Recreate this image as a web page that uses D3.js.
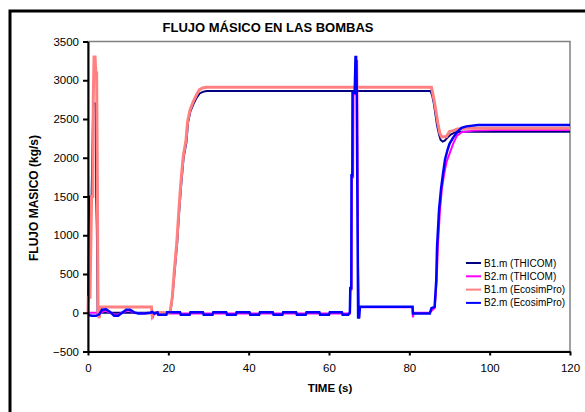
<!DOCTYPE html>
<html><head><meta charset="utf-8">
<script src="https://cdn.jsdelivr.net/npm/d3@7"></script>
<style>
body{margin:0;background:#fff;}
text{font-family:"Liberation Sans",Arial,sans-serif;}
</style></head>
<body>
<svg id="c" width="585" height="412"></svg>
<script>
// ---- data ----
const seriesNames = ["B1.m (THICOM)", "B2.m (THICOM)", "B1.m (EcosimPro)", "B2.m (EcosimPro)"];
const xTicks = [0, 20, 40, 60, 80, 100, 120];
const yTicks = [-500, 0, 500, 1000, 1500, 2000, 2500, 3000, 3500];

const b1ThicomT = [0, 0.3, 0.9, 1.3, 1.9, 2.05, 2.2, 2.4, 16, 20.5, 21.0, 21.6, 22.2, 22.7, 23.2, 23.8, 24.5, 24.9, 25.5, 26.3, 27.1, 27.8, 28.6, 29.5, 85.3, 85.7, 86.1, 86.5, 86.9, 87.4, 87.8, 88.3, 88.8, 89.5, 90.3, 91.5, 93, 120];
const b1ThicomV = [0, 1500, 1500, 2700, 2700, 1500, 1100, 0, 0, 0, 200, 550, 900, 1300, 1650, 2000, 2200, 2450, 2600, 2700, 2780, 2830, 2850, 2860, 2860, 2800, 2700, 2560, 2420, 2300, 2230, 2208, 2220, 2260, 2300, 2330, 2337, 2337];

const b2ThicomT = [0, 2, 3, 4.2, 5.5, 7, 8.5, 10, 11.5, 13, 16, 16.2, 16.5, 65.2, 65.3, 65.6, 65.7, 66.0, 66.1, 66.6, 66.7, 67.0, 67.25, 67.5, 67.6, 80.8, 80.9, 81.1, 85, 86.3, 86.8, 87.1, 87.6, 88.1, 88.7, 89.3, 90, 90.9, 91.8, 93, 96, 101, 120];
const b2ThicomV = [0, 0, -10, 30, 0, -30, 0, 30, 0, -5, -5, -50, -10, -10, 300, 300, 1750, 1750, 2820, 2820, 3250, 3250, 600, -50, 70, 70, -60, 0, 0, 60, 400, 850, 1300, 1600, 1800, 1950, 2050, 2180, 2280, 2330, 2350, 2359, 2359];

const b1EcoT = [0, 0.08, 0.5, 0.9, 1.2, 1.3, 1.5, 1.75, 1.95, 2.15, 2.35, 2.5, 2.8, 3.15, 15.8, 16.0, 16.4, 20.4, 21.0, 21.5, 22.1, 22.6, 23.1, 23.7, 24.4, 24.8, 25.4, 26.2, 27.0, 27.7, 28.5, 29.5, 85.5, 85.9, 86.3, 86.7, 87.1, 87.6, 88.0, 89.2, 90.0, 90.9, 92.0, 94.0, 120];
const b1EcoV = [0, 200, 200, 1500, 1500, 2725, 3300, 3300, 3095, 3095, 1500, 0, -70, 75, 75, -40, 0, 0, 205, 550, 900, 1304, 1670, 2014, 2230, 2467, 2618, 2725, 2811, 2876, 2900, 2910, 2910, 2811, 2704, 2575, 2446, 2317, 2272, 2272, 2337, 2350, 2370, 2381, 2381];

const b2EcoT = [0, 1, 2, 2.8, 3.5, 4.5, 5.5, 6.5, 7.5, 8.5, 9.5, 10.5, 11.5, 12.5, 14, 15.5, 16, 16.5, 17.3, 17.5, 19.5, 19.7, 22.9, 23.1, 25.3, 25.5, 28.6, 28.8, 31, 31.2, 34.4, 34.6, 36.8, 37, 40.2, 40.4, 42.6, 42.8, 46.0, 46.2, 48.4, 48.6, 51.8, 52, 54.2, 54.4, 57.6, 57.8, 60, 60.2, 63.2, 63.4, 64.8, 65.2, 65.3, 65.55, 65.6, 65.8, 65.85, 66.4, 66.6, 66.75, 66.9, 67.25, 67.5, 67.7, 80.8, 80.9, 85.1, 85.5, 86.3, 86.7, 86.9, 87.4, 87.9, 88.4, 88.9, 89.5, 90.0, 90.9, 92.0, 93.0, 94.2, 97.1, 120];
const b2EcoV = [-30, -40, -40, -20, 40, 45, 10, -40, -40, 0, 40, 40, 5, -10, -10, 0, 10, -10, 5, -25, -25, 5, 5, -25, -25, 5, 5, -25, -25, 5, 5, -25, -25, 5, 5, -25, -25, 5, 5, -25, -25, 5, 5, -25, -25, 5, 5, -25, -25, 5, 5, -25, -25, 5, 320, 320, 1775, 1775, 2840, 2840, 3300, 3300, 2900, -60, -60, 76, 76, -10, -10, 60, 76, 420, 850, 1330, 1600, 1800, 1980, 2100, 2180, 2260, 2337, 2385, 2405, 2424, 2424];

const seriesColors = ["#000080", "#FF00FF", "#FF8080", "#0000FF"];
const seriesWidths = [2, 2, 3, 2.5];

// ---- chart ----
const svg = d3.select("#c");
const x = d3.scaleLinear().domain([0, 120]).range([88, 570]);
const y = d3.scaleLinear().domain([-500, 3500]).range([351.5, 41.5]);

// outer frame
svg.append("rect").attr("x", 10).attr("y", 11).attr("width", 620).attr("height", 450)
  .attr("fill", "none").attr("stroke", "#000").attr("stroke-width", 3);

// plot area border
svg.append("rect").attr("x", x(0)).attr("y", y(3500)).attr("width", x(120) - x(0)).attr("height", y(-500) - y(3500))
  .attr("fill", "#fff").attr("stroke", "#808080").attr("stroke-width", 1.5);

const series = [
  [b1ThicomT, b1ThicomV],
  [b2ThicomT, b2ThicomV],
  [b1EcoT, b1EcoV],
  [b2EcoT, b2EcoV]
];
const line = d3.line().x(d => x(d[0])).y(d => y(d[1]));
series.forEach((s, i) => {
  const pts = s[0].map((t, k) => [t, s[1][k]]);
  svg.append("path").datum(pts).attr("d", line)
    .attr("fill", "none").attr("stroke", seriesColors[i]).attr("stroke-width", seriesWidths[i])
    .attr("stroke-linejoin", "miter");
});

// axes
const fmt = d3.format("d");
const ax = svg.append("g").attr("transform", `translate(0,${y(-500)})`)
  .call(d3.axisBottom(x).tickValues(xTicks).tickFormat(fmt).tickSize(4).tickPadding(8).tickSizeOuter(0));
const ay = svg.append("g").attr("transform", `translate(${x(0)},0)`)
  .call(d3.axisLeft(y).tickValues(yTicks).tickFormat(fmt).tickSize(5).tickPadding(4).tickSizeOuter(0));
[ax, ay].forEach(g => {
  g.select(".domain").attr("stroke", "#000").attr("stroke-width", 2);
  g.selectAll(".tick line").attr("stroke", "#000").attr("stroke-width", 2);
  g.selectAll(".tick text").attr("fill", "#000").style("font-size", "11.5px")
    .style("font-family", '"Liberation Sans",Arial,sans-serif');
});

// title
svg.append("text").attr("x", 268).attr("y", 31.5).attr("text-anchor", "middle")
  .style("font-size", "13px").style("font-weight", "bold").text("FLUJO MÁSICO EN LAS BOMBAS");
svg.append("text").attr("x", 330).attr("y", 392).attr("text-anchor", "middle")
  .style("font-size", "11.5px").style("font-weight", "bold").text("TIME (s)");
svg.append("text").attr("transform", "translate(38,198) rotate(-90)").attr("text-anchor", "middle")
  .style("font-size", "12px").style("font-weight", "bold").text("FLUJO MASICO (kg/s)");

// legend
const lg = svg.append("g");
seriesNames.forEach((n, i) => {
  const yy = 263 + i * 13.3;
  lg.append("line").attr("x1", 466).attr("x2", 481).attr("y1", yy).attr("y2", yy)
    .attr("stroke", seriesColors[i]).attr("stroke-width", 2);
  lg.append("text").attr("x", 484).attr("y", yy + 3.5).style("font-size", "10px").text(n);
});
</script>
</body></html>
